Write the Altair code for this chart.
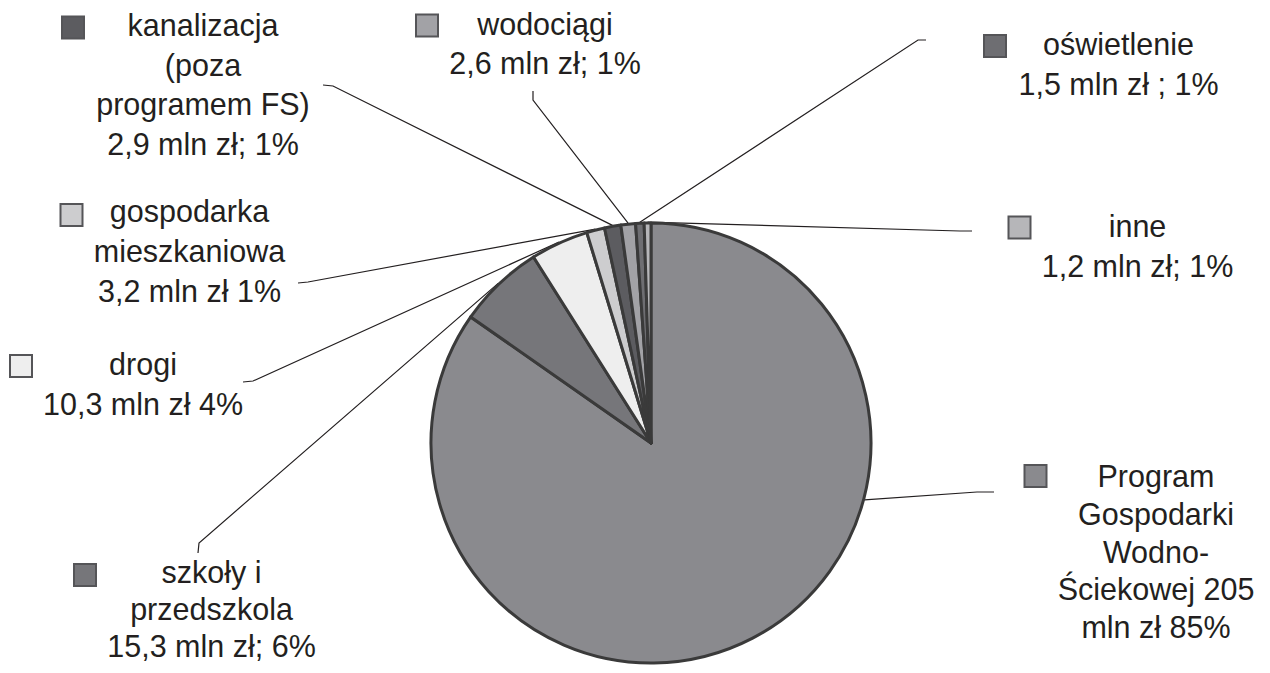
import math
import altair as alt
import pandas as pd

# ---- data ----
names = [
    "Program Gospodarki Wodno-Ściekowej",
    "szkoły i przedszkola",
    "drogi",
    "gospodarka mieszkaniowa",
    "kanalizacja (poza programem FS)",
    "wodociągi",
    "oświetlenie",
    "inne",
]
values = [205, 15.3, 10.3, 3.2, 2.9, 2.6, 1.5, 1.2]
label_lines = [
    ["Program", "Gospodarki", "Wodno-", "Ściekowej 205", "mln zł 85%"],
    ["szkoły i", "przedszkola", "15,3 mln zł; 6%"],
    ["drogi", "10,3 mln zł 4%"],
    ["gospodarka", "mieszkaniowa", "3,2 mln zł 1%"],
    ["kanalizacja", "(poza", "programem FS)", "2,9 mln zł; 1%"],
    ["wodociągi", "2,6 mln zł; 1%"],
    ["oświetlenie", "1,5 mln zł ; 1%"],
    ["inne", "1,2 mln zł; 1%"],
]

# ---- styles ----
colors = ["#8a8a8e", "#76767a", "#eeeeee", "#cdcdcf",
          "#5c5c60", "#a2a2a6", "#6e6e72", "#b6b6b9"]

# ---- layout (page pixel coordinates) ----
OFF = 8
CX, CY, R = 651, 443, 220
R_END = 221
label_x = [1156, 211.5, 143, 189.5, 203, 545, 1118.5, 1137.5]
label_y = [487, 583, 375, 222, 36, 35, 55, 237]
label_gap = [37.8, 37, 40, 40, 39.6, 39, 40, 40]
square_x = [1035.5, 85, 21, 71.5, 73, 427, 995, 1019.5]
square_y = [476, 575, 366, 215, 27.5, 25.5, 46, 227.5]
leader_start = [
    [(994, 492), (977, 492)],
    [(198, 553), (199, 543)],
    [(243, 382), (253, 381)],
    [(298, 283), (308, 282)],
    [(323, 85), (333, 86)],
    [(533, 91), (533, 100)],
    [(926, 40), (918, 40)],
    [(972, 231), (960, 231)],
]
leader_frac = [0.344, 0.5, 0.5, 0.5, 0.5, 0.5, 0.5, 0.5]

# ---- build tables ----
pie_df = pd.DataFrame({"name": names, "value": values, "idx": list(range(len(names)))})

total = sum(values)
rows = []
cum = 0.0
for i, v in enumerate(values):
    a = 2 * math.pi * (cum + v * leader_frac[i]) / total
    cum += v
    ex = CX + R_END * math.sin(a)
    ey = CY - R_END * math.cos(a)
    pts = leader_start[i] + [(ex, ey)]
    for k, (px, py) in enumerate(pts):
        rows.append({"name": names[i], "k": k, "x": px - OFF, "y": py - OFF})
lead_df = pd.DataFrame(rows)

trows = []
for i, lines in enumerate(label_lines):
    for j, line in enumerate(lines):
        trows.append({"name": names[i], "text": line,
                      "tx": label_x[i] - OFF,
                      "ty": label_y[i] + j * label_gap[i] - OFF})
text_df = pd.DataFrame(trows)

sq_df = pd.DataFrame({
    "name": names,
    "sx": [x - OFF for x in square_x],
    "sy": [y - OFF for y in square_y],
})

color_scale = alt.Scale(domain=names, range=colors)

pie = alt.Chart(pie_df).mark_arc(
    outerRadius=R, stroke="#3a3a3a", strokeWidth=3, strokeJoin="round"
).encode(
    theta=alt.Theta("value:Q", stack=True),
    order=alt.Order("idx:Q"),
    color=alt.Color("name:N", scale=color_scale, legend=None),
    x=alt.value(CX - OFF),
    y=alt.value(CY - OFF),
)

leaders = alt.Chart(lead_df).mark_line(color="#231f20", strokeWidth=1.2).encode(
    x=alt.X("x:Q", scale=None, axis=None),
    y=alt.Y("y:Q", scale=None, axis=None),
    detail="name:N",
    order="k:Q",
)

squares = alt.Chart(sq_df).mark_square(
    size=484, filled=True, opacity=1, stroke="#555558", strokeWidth=2
).encode(
    x=alt.X("sx:Q", scale=None, axis=None),
    y=alt.Y("sy:Q", scale=None, axis=None),
    color=alt.Color("name:N", scale=color_scale, legend=None),
)

texts = alt.Chart(text_df).mark_text(
    font="Liberation Sans", fontSize=30.5,
    align="center", baseline="alphabetic", color="#231f20",
).encode(
    x=alt.X("tx:Q", scale=None, axis=None),
    y=alt.Y("ty:Q", scale=None, axis=None),
    text="text:N",
)

chart = alt.layer(leaders, pie, squares, texts).properties(
    width=1254, height=657, padding=0, autosize="none"
).configure_view(stroke=None)

chart.save("out.html", embed_options={"renderer": "svg", "actions": False})
